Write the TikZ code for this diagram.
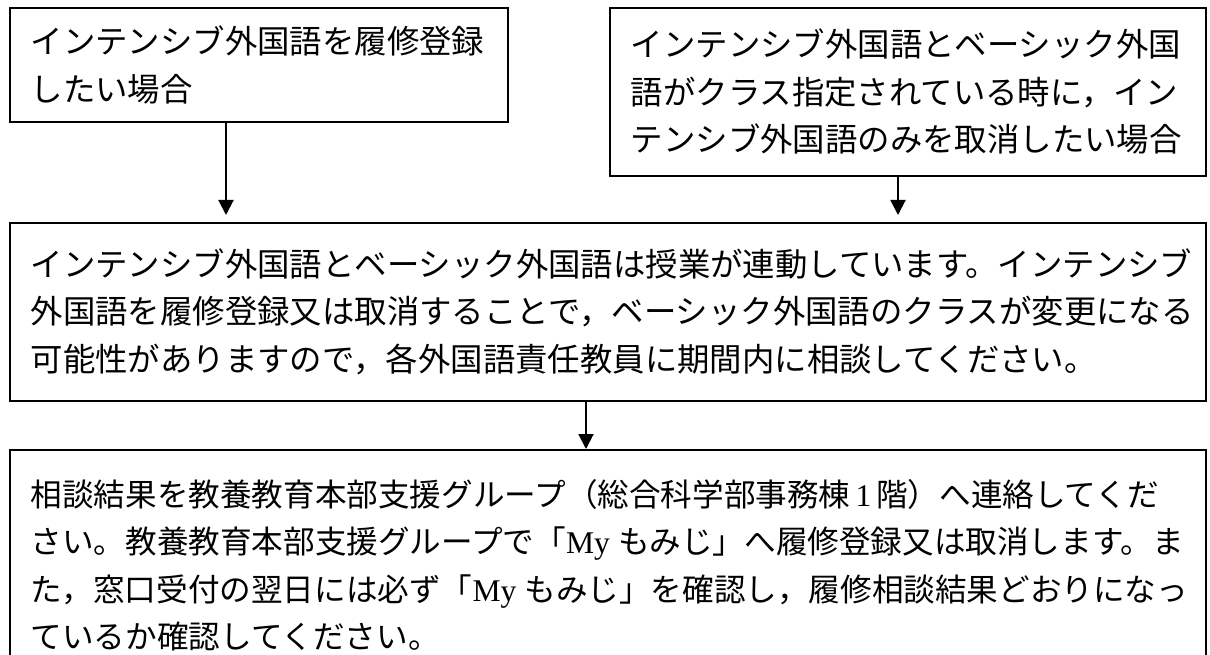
\documentclass[tikz,border=0pt]{standalone}
\usepackage{fontspec}
\usetikzlibrary{arrows.meta}
\newfontfamily\jp{Noto Sans CJK JP}
\newfontfamily\lat{Liberation Serif}
\newcommand{\myl}{\hbox{\lat My\kern8pt}}
\tikzset{
  box/.style={draw=black, line width=1.6pt, anchor=north west, align=left,
    inner xsep=21pt, inner ysep=0pt,
    font={\jp\fontsize{32.4}{47.5}\selectfont}},
  arr/.style={line width=2pt, -{Triangle[length=15pt,width=15pt]}},
}
\begin{document}
\begin{tikzpicture}[x=1pt,y=-1pt]
\useasboundingbox (0,0) rectangle (1210,655);
\clip (0,0) rectangle (1210,655);
\node[box, text width=456pt, minimum height=114pt] (b1) at (9,7)
  {インテンシブ外国語を履修登録\\したい場合};
\node[box, text width=554pt, minimum height=168pt] (b2) at (609,7)
  {インテンシブ外国語とベーシック外国\\語がクラス指定されている時に，イン\\テンシブ外国語のみを取消したい場合};
\node[box, text width=1154pt, minimum height=178pt] (b3) at (9,222)
  {インテンシブ外国語とベーシック外国語は授業が連動しています。インテンシブ\\外国語を履修登録又は取消することで，ベーシック外国語のクラスが変更になる\\可能性がありますので，各外国語責任教員に期間内に相談してください。};
\node[box, text width=1154pt, minimum height=231pt,
      font={\jp\fontsize{31.6}{47.5}\selectfont}] (b4) at (9,449)
  {相談結果を教養教育本部支援グループ（総合科学部事務棟\hbox{\lat\kern5pt 1\kern5pt}階）へ連絡してくだ\\さい。教養教育本部支援グループで「\myl もみじ」へ履修登録又は取消します。ま\\た，窓口受付の翌日には必ず「\myl もみじ」を確認し，履修相談結果どおりになっ\\ているか確認してください。};
\coordinate (x1) at (226,0);
\coordinate (x2) at (898,0);
\coordinate (x3) at (586,0);
\draw[arr, shorten >=7pt] (b1.south -| x1) -- (b3.north -| x1);
\draw[arr, shorten >=7pt] (b2.south -| x2) -- (b3.north -| x2);
\draw[arr] (b3.south -| x3) -- (b4.north -| x3);
\end{tikzpicture}
\end{document}
